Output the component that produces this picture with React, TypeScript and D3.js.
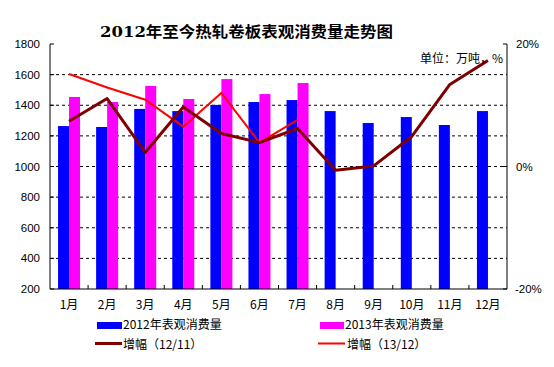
import React from "react";
import * as d3 from "d3";

const months = ["1月", "2月", "3月", "4月", "5月", "6月", "7月", "8月", "9月", "10月", "11月", "12月"];
const cons2012 = [1264, 1258, 1376, 1362, 1402, 1421, 1434, 1362, 1284, 1323, 1271, 1362];
const cons2013 = [1454, 1421, 1526, 1441, 1571, 1473, 1545];
const growth1211 = [7.4, 11.1, 2.3, 9.7, 5.4, 3.9, 6.2, -0.6, 0.1, 4.9, 13.4, 17.3];
const growth1312 = [15.1, 12.9, 10.9, 6.5, 12.0, 3.9, 7.6];
const leftTicks = [200, 400, 600, 800, 1000, 1200, 1400, 1600, 1800];
const rightTicks = [-20, 0, 20];

const title = "2012年至今热轧卷板表观消费量走势图";
const unitLabel = "单位：万吨，%";
const seriesNames = ["2012年表观消费量", "2013年表观消费量", "增幅（12/11）", "增幅（13/12）"];

const W = 554, H = 367;
const L = 50, R = 507, T = 44, B = 289;
const BLUE = "#0000ff", MAG = "#ff00ff", DARK = "#800000", RED = "#ff0000";
const sans = "'Liberation Sans', Arial, 'Noto Sans CJK SC', sans-serif";
const cjk = "'Noto Sans CJK SC', 'Liberation Sans', sans-serif";

export default function App() {
  const x = d3.scaleBand<string>().domain(months).range([L, R]).paddingInner(0).paddingOuter(0);
  const bw = x.bandwidth();
  const sub = d3.scaleBand<string>().domain(["2012", "2013"]).range([0, 22]);
  const y = d3.scaleLinear().domain([200, 1800]).range([B, T]);
  const y2 = d3.scaleLinear().domain([-20, 20]).range([B, T]);
  const cx = (m: string) => (x(m) as number) + bw / 2;

  const line1 = d3.line<number>().x((_, i) => cx(months[i])).y((d) => y2(d));
  const gridVals = leftTicks.filter((v) => v > 200 && v < 1800);

  return (
    <svg width={W} height={H} style={{ position: "absolute", left: 0, top: 0, background: "#fff" }}>
      <rect x={0} y={0} width={W} height={H} fill="#fff" />
      <text x={(100 + 393) / 2} y={37} textAnchor="middle" fontSize={15} fontWeight="bold"
        fontFamily="'DejaVu Serif', 'Noto Sans CJK SC', serif" textLength={293} lengthAdjust="spacingAndGlyphs">{title}</text>

      {gridVals.map((v) => (
        <line key={v} x1={L} x2={R} y1={y(v)} y2={y(v)} stroke="#000" strokeWidth={1} strokeDasharray="3,3" />
      ))}

      {months.map((m, i) => (
        <rect key={"b12" + m} x={cx(m) - 11 + (sub("2012") as number)} y={y(cons2012[i])}
          width={sub.bandwidth()} height={B - y(cons2012[i])} fill={BLUE} />
      ))}
      {cons2013.map((v, i) => (
        <rect key={"b13" + i} x={cx(months[i]) - 11 + (sub("2013") as number)} y={y(v)}
          width={sub.bandwidth()} height={B - y(v)} fill={MAG} />
      ))}

      <path d={line1(growth1312) as string} fill="none" stroke={RED} strokeWidth={2} />
      <path d={line1(growth1211) as string} fill="none" stroke={DARK} strokeWidth={3} strokeLinejoin="round" />

      {/* axes */}
      <line x1={L} x2={L} y1={T} y2={B} stroke="#000" />
      <line x1={R} x2={R} y1={T} y2={B} stroke="#000" />
      <line x1={L} x2={R} y1={B} y2={B} stroke="#000" />
      {leftTicks.map((v) => (
        <g key={"lt" + v}>
          <line x1={L} x2={L + 4} y1={y(v)} y2={y(v)} stroke="#000" />
          <text x={40} y={y(v) + 4} textAnchor="end" fontSize={11.5} fontFamily={sans} fill="#000">{v}</text>
        </g>
      ))}
      {rightTicks.map((v) => (
        <g key={"rt" + v}>
          <line x1={R - 4} x2={R} y1={y2(v)} y2={y2(v)} stroke="#000" />
          <text x={v < 0 ? 515 : 516} y={y2(v) + 4} textAnchor="start" fontSize={11.5} fontFamily={sans} fill="#000">{v + "%"}</text>
        </g>
      ))}
      {months.slice(1).map((m) => (
        <line key={"xt" + m} x1={x(m) as number} x2={x(m) as number} y1={B} y2={B - 4} stroke="#000" />
      ))}
      {months.map((m) => (
        <text key={"xl" + m} x={cx(m)} y={309} textAnchor="middle" fontSize={12} fontFamily={cjk} fill="#000">{m}</text>
      ))}

      <text x={503} y={63} textAnchor="end" fontSize={12} fontFamily={cjk} fill="#000">{unitLabel}</text>

      {/* legend */}
      <rect x={97} y={322} width={25} height={7} fill={BLUE} />
      <text x={123} y={329} fontSize={12} fontFamily={cjk} fill="#000">{seriesNames[0]}</text>
      <rect x={320} y={322} width={24} height={7} fill={MAG} />
      <text x={345} y={329} fontSize={12} fontFamily={cjk} fill="#000">{seriesNames[1]}</text>
      <line x1={95} x2={122} y1={343.5} y2={343.5} stroke={DARK} strokeWidth={3} />
      <text x={123} y={349} fontSize={12} fontFamily={cjk} fill="#000">{seriesNames[2]}</text>
      <line x1={318} x2={345} y1={343.5} y2={343.5} stroke={RED} strokeWidth={2} />
      <text x={347} y={349} fontSize={12} fontFamily={cjk} fill="#000">{seriesNames[3]}</text>
    </svg>
  );
}
